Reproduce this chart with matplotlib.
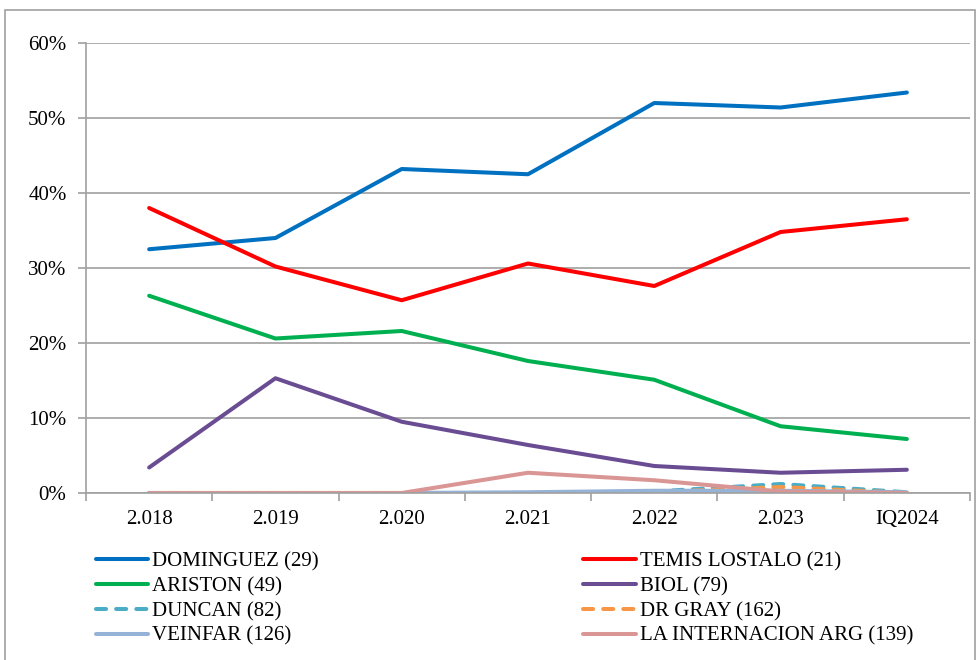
import matplotlib; matplotlib.use("Agg")
import matplotlib.pyplot as plt
from matplotlib.patches import Rectangle
from matplotlib.ticker import FixedLocator, PercentFormatter

plt.rcParams["font.family"] = ["Liberation Serif", "DejaVu Serif"]

years = ["2.018", "2.019", "2.020", "2.021", "2.022", "2.023", "IQ2024"]

dominguez = [32.5, 34.0, 43.2, 42.5, 52.0, 51.4, 53.4]
temis = [38.0, 30.2, 25.7, 30.6, 27.6, 34.8, 36.5]
ariston = [26.3, 20.6, 21.6, 17.6, 15.1, 8.9, 7.2]
biol = [3.4, 15.3, 9.5, 6.4, 3.6, 2.7, 3.1]
duncan = [0.0, 0.0, 0.0, 0.0, 0.2, 1.2, 0.1]
drgray = [0.0, 0.0, 0.0, 0.0, 0.1, 0.8, 0.0]
veinfar = [0.0, 0.0, 0.0, 0.1, 0.3, 0.3, 0.1]
internacion = [0.0, 0.0, 0.0, 2.7, 1.7, 0.2, 0.0]

series = [
    ("DOMINGUEZ (29)", dominguez, "#0070C0", "-"),
    ("TEMIS LOSTALO (21)", temis, "#FF0000", "-"),
    ("ARISTON (49)", ariston, "#00B050", "-"),
    ("BIOL (79)", biol, "#6A4C93", "-"),
    ("DUNCAN (82)", duncan, "#4BACC6", (0, (2.5, 2.5))),
    ("DR GRAY (162)", drgray, "#F79646", (0, (2.5, 2.5))),
    ("VEINFAR (126)", veinfar, "#95B3D7", "-"),
    ("LA INTERNACION ARG (139)", internacion, "#D99694", "-"),
]

fig = plt.figure(figsize=(9.79, 6.6), dpi=100)
ax = fig.add_axes([86/979, 1-493/660, (970-86)/979, (493-43)/660])

x = list(range(len(years)))
handles = {}
for name, vals, col, ls in series:
    ln, = ax.plot(x, vals, color=col, lw=2.9, ls=ls, solid_capstyle="round",
                  dash_capstyle="round", label=name)
    handles[name] = ln

ax.set_xlim(-0.5, len(years) - 0.5)
ax.set_ylim(0, 60)
ax.yaxis.set_major_locator(FixedLocator([0, 10, 20, 30, 40, 50, 60]))
ax.yaxis.set_major_formatter(PercentFormatter(decimals=0))
ax.grid(axis="y", color="#A0A0A0", lw=1.2)
ax.set_axisbelow(True)
for s in ["top", "right"]:
    ax.spines[s].set_visible(False)
for s in ["left", "bottom"]:
    ax.spines[s].set_color("#A0A0A0")
    ax.spines[s].set_linewidth(1.2)

ax.set_xticks(x)
ax.set_xticklabels(years)
ax.set_xticks([i - 0.5 for i in range(len(years) + 1)], minor=True)
ax.tick_params(axis="x", which="major", length=0, pad=12, labelsize=15)
ax.tick_params(axis="x", which="minor", length=6, color="#A0A0A0", width=1.2)
ax.tick_params(axis="y", length=6, color="#A0A0A0", width=1.2, labelsize=15, pad=8)

order = ["DOMINGUEZ (29)", "ARISTON (49)", "DUNCAN (82)", "VEINFAR (126)",
         "TEMIS LOSTALO (21)", "BIOL (79)", "DR GRAY (162)", "LA INTERNACION ARG (139)"]
fig.legend([handles[n] for n in order], order, ncol=2, loc="upper left",
           bbox_to_anchor=(96/979, 1-552/660), frameon=False, fontsize=15,
           handlelength=2.5, handletextpad=0.2, labelspacing=0.25,
           columnspacing=12.7, borderpad=0, borderaxespad=0)

fig.add_artist(Rectangle((5/979, -0.05), 970/979, 1.05-10/660, transform=fig.transFigure,
                         fill=False, ec="#A0A0A0", lw=1.2))

fig.savefig("out.png", dpi=100)
